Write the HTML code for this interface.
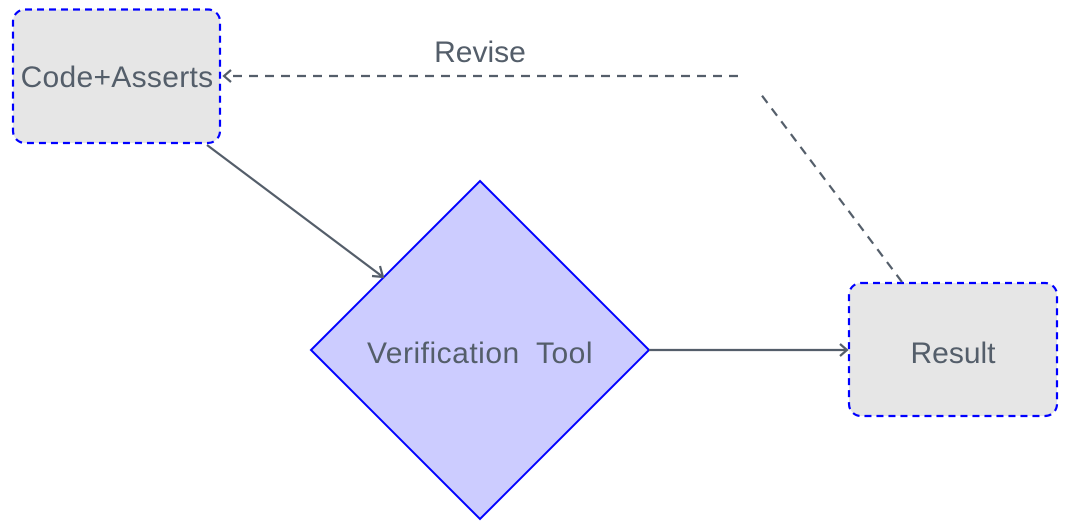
<!DOCTYPE html>
<html><head><style>body{margin:0;background:#fff}svg{display:block}</style></head><body>
<svg width="1069" height="531" viewBox="0 0 1069 531" xmlns="http://www.w3.org/2000/svg" font-family="Liberation Sans, sans-serif">
<rect x="13" y="9.5" width="207" height="133.5" rx="12" fill="#e6e6e6" stroke="#0000ff" stroke-width="2.2" stroke-dasharray="7,5"/>
<rect x="849" y="283" width="208" height="133" rx="12" fill="#e6e6e6" stroke="#0000ff" stroke-width="2.2" stroke-dasharray="7,5"/>
<polygon points="480,181 649,350 480,519 311,350" fill="#ccccff" stroke="#0000ff" stroke-width="2"/>
<g stroke="#545e6a" stroke-width="2.2" fill="none">
<line x1="207" y1="145" x2="383" y2="277"/>
<polyline points="372,276 383,277 380,266"/>
<line x1="649" y1="350" x2="847" y2="350"/>
<polyline points="840,344 847,350 840,356"/>
<path d="M902,282 L760,93" stroke-dasharray="9,7"/>
<path d="M738,76 L224,76" stroke-dasharray="9,7"/>
<polyline points="231,70 224,76 231,82"/>
</g>
<g fill="#545e6a" font-size="30" text-anchor="middle">
<text x="117" y="87" letter-spacing="0.3">Code+Asserts</text>
<text x="480" y="363" letter-spacing="0.5" word-spacing="8">Verification Tool</text>
<text x="953" y="363">Result</text>
<text x="480" y="62">Revise</text>
</g>
</svg>
</body></html>
